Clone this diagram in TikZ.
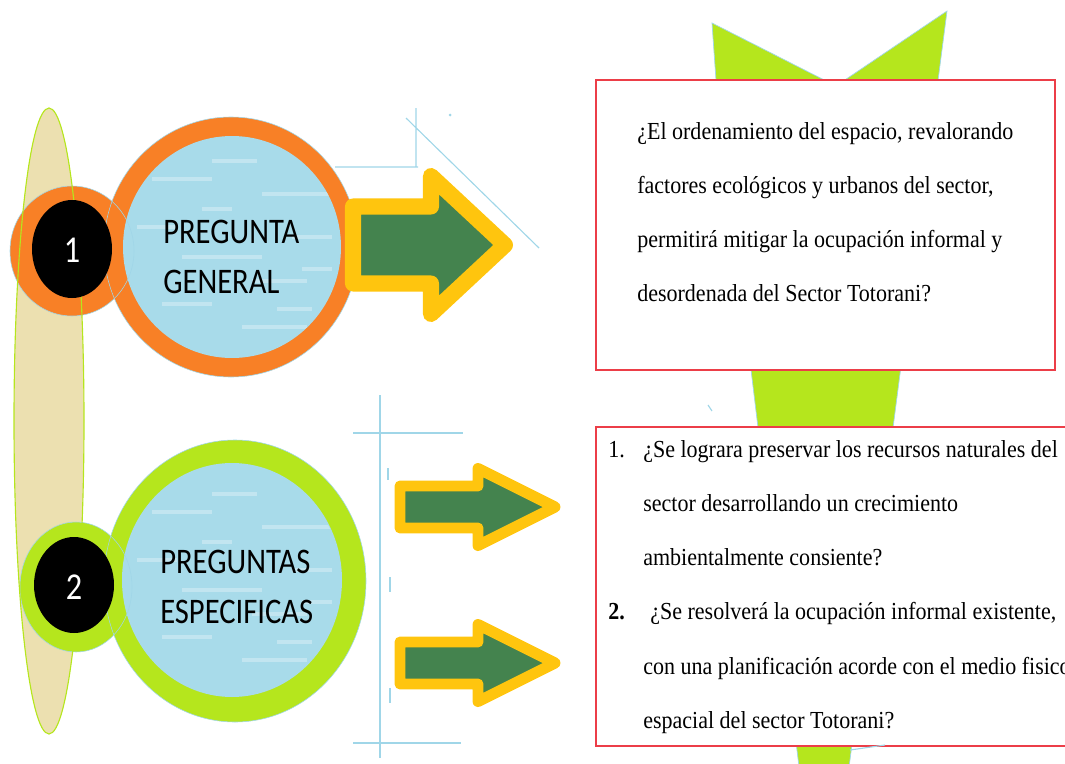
\documentclass[tikz,border=0pt]{standalone}
\usepackage{fontspec}
\newfontfamily\circfont[FakeStretch=0.85]{Carlito}
\newfontfamily\qfont[FakeStretch=0.9]{Liberation Serif}
\definecolor{ringorange}{RGB}{248,128,38}
\definecolor{ringlime}{RGB}{181,230,29}
\definecolor{stemtan}{RGB}{236,224,176}
\definecolor{waterblue}{RGB}{168,219,234}
\definecolor{arrowyellow}{RGB}{255,197,14}
\definecolor{arrowgreen}{RGB}{68,131,78}
\definecolor{boxred}{RGB}{236,62,72}
\definecolor{guideblue}{RGB}{160,214,232}
\tikzset{
  fatarrow/.style={draw=arrowyellow,fill=arrowgreen,line join=round},
  guide/.style={guideblue,line width=0.8pt},
  circlbl/.style={inner sep=0pt,anchor=base west,font=\circfont\fontsize{25.6}{30}\selectfont},
  numlbl/.style={white,inner sep=0pt,font=\circfont\fontsize{27}{30}\selectfont},
  qline/.style={inner sep=0pt,anchor=base west,font=\qfont\fontsize{17.4}{20}\selectfont},
  qbox/.style={draw=boxred,fill=white,line width=1.3pt},
}
\begin{document}
\begin{tikzpicture}[x=0.025cm,y=-0.025cm]
	\useasboundingbox (0,0) rectangle (1065,763);
	\clip (0,0) rectangle (1065,763);
	% lime funnel behind the boxes
	\filldraw[fill=ringlime,draw=guideblue,line width=0.5pt] (712,23) -- (836,86) -- (947,11) -- (848,775) -- (800,775) -- (716,80) -- cycle;
	\draw[qbox] (596,80) rectangle (1055,370);
	\draw[qbox] (596,427) rectangle (1085,746);
	\foreach \txt [count=\i] in {{¿El ordenamiento del espacio, revalorando},{factores ecológicos y urbanos del sector,},{permitirá mitigar la ocupación informal y},{desordenada del Sector Totorani?}}
		\node[qline] (gq\i) at (637,{139+54.3*(\i-1)}) {\txt};
	\node[qline] (n1) at (608,457) {1.};
	\node[qline] (sq1) at (643,457) {¿Se lograra preservar los recursos naturales del};
	\node[qline] (sq2) at (643,511) {sector desarrollando un crecimiento};
	\node[qline] (sq3) at (643,565) {ambientalmente consiente?};
	\node[qline,font=\qfont\bfseries\fontsize{17.4}{20}\selectfont] (n2) at (608,619) {2.};
	\node[qline] (sq4) at (650,619) {¿Se resolverá la ocupación informal existente,};
	\node[qline] (sq5) at (643,674) {con una planificación acorde con el medio fisico};
	\node[qline] (sq6) at (643,728) {espacial del sector Totorani?};
	% left stem and circles
	\fill[stemtan] (49,421) ellipse [x radius=35, y radius=313];
	\fill[ringorange] (72,251) ellipse [x radius=62, y radius=65];
	\fill[ringlime] (76,587) ellipse [x radius=56, y radius=65];
	\fill[ringorange] (231,247) ellipse [x radius=127, y radius=130];
	\fill[waterblue] (232,247) ellipse [x radius=109, y radius=111];
	\fill[ringlime] (235,581) ellipse [x radius=131, y radius=141];
	\fill[waterblue] (232,580) ellipse [x radius=110, y radius=117];
	\foreach \cy/\ry in {247/111,580/117} {
		\begin{scope}
			\clip (232,\cy) ellipse [x radius=109, y radius=\ry];
			\foreach \dx/\dy/\len in {-80/-70/60,-20/-88/45,30/-55/70,-95/-22/40,-50/8/80,20/32/55,-70/55/50,10/78/65,60/-12/40,45/60/35,-30/-40/30,70/20/30}
				\fill[white,opacity=0.3] (232+\dx,\cy+\dy) rectangle +(\len,4);
		\end{scope}
	}
	\draw[guide,line width=0.4pt] (72,251) ellipse [x radius=62, y radius=65];
	\draw[guide,line width=0.4pt] (76,587) ellipse [x radius=56, y radius=65];
	\draw[guide,line width=0.4pt] (231,247) ellipse [x radius=127, y radius=130];
	\draw[guide,line width=0.4pt] (235,581) ellipse [x radius=131, y radius=141];
	\draw[ringlime,line width=0.8pt] (49,421) ellipse [x radius=35, y radius=313];
	\fill[black] (72,249) ellipse [x radius=40, y radius=49];
	\fill[black] (74,585) ellipse [x radius=40, y radius=48];
	\node[numlbl] (num1) at (72,250) {1};
	\node[numlbl] (num2) at (74,587) {2};
	\node[circlbl] (gen1) at (163,243) {PREGUNTA};
	\node[circlbl] (gen2) at (163,293) {GENERAL};
	\node[circlbl] (esp1) at (160,573) {PREGUNTAS};
	\node[circlbl] (esp2) at (160,623) {ESPECIFICAS};
	% arrows
	\draw[fatarrow,line width=11.4pt] (353,206.5) -- (431,206.5) -- (431,176) -- (505,245) -- (431,314) -- (431,283.5) -- (353,283.5) -- cycle;
	\foreach \ay in {507,663}
		\draw[fatarrow,line width=7.8pt] (400,\ay-21) -- (478,\ay-21) -- (478,\ay-38.5) -- (555,\ay) -- (478,\ay+38.5) -- (478,\ay+21) -- (400,\ay+21) -- cycle;
	% thin guide lines
	\draw[guide] (335,167) -- (418,167) (416,108) -- (416,167) (406,118) -- (539,248);
	\fill[guideblue] (450,115) circle (1.5);
	\draw[guide] (380,395) -- (380,758) (353,433) -- (463,433) (353,743) -- (461,743);
	\draw[guide] (388,468) -- (388,480) (390,577) -- (390,592) (390,688) -- (390,703);
	\draw[guide] (708,405) -- (712,411) (850,750) -- (885,745);
\end{tikzpicture}
\end{document}
